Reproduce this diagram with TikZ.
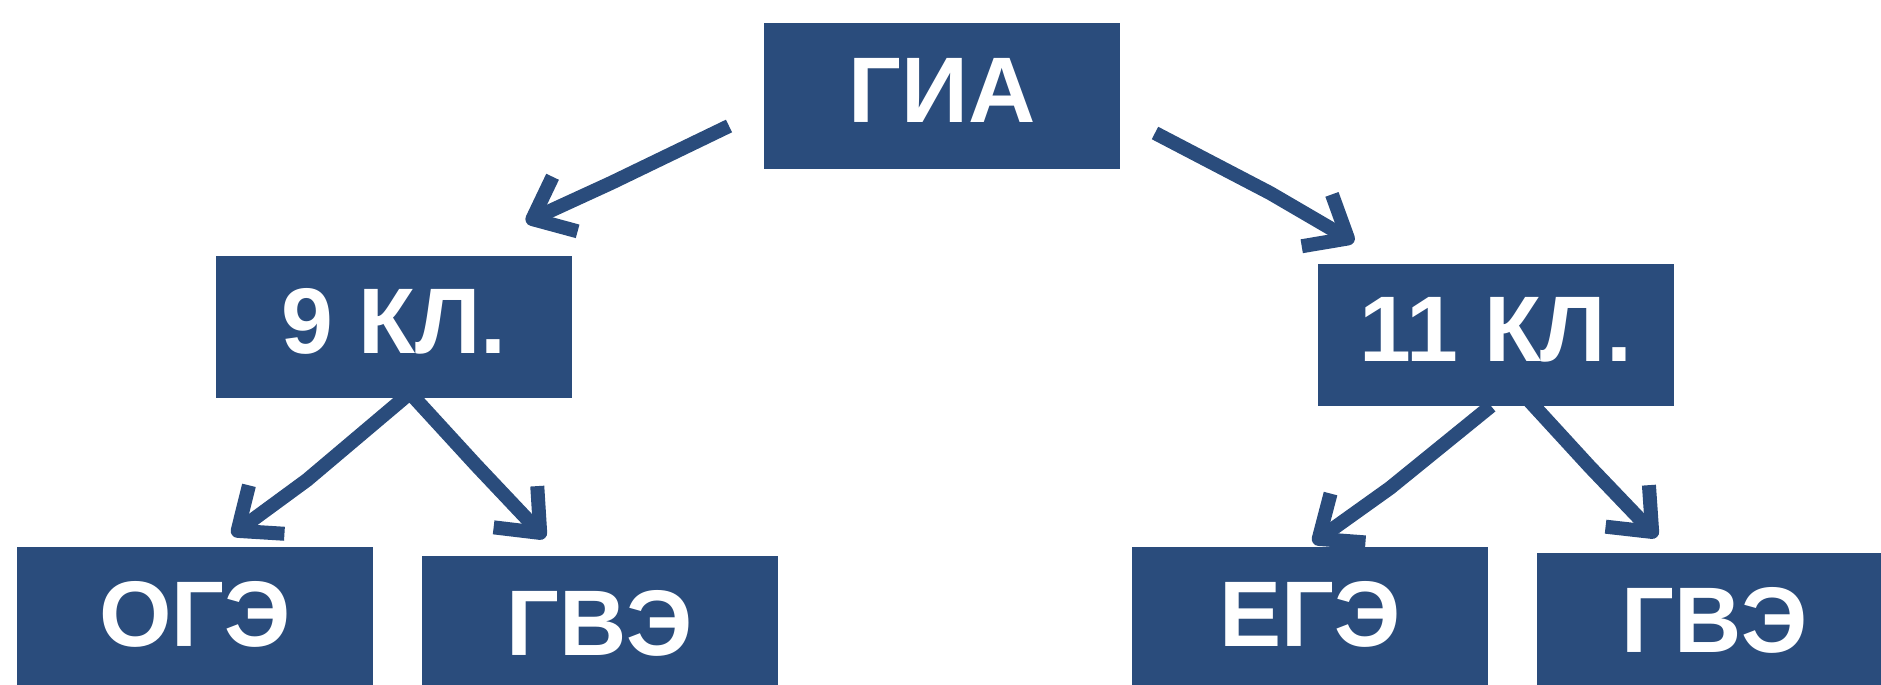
\documentclass[tikz,border=0pt]{standalone}
\usepackage{fontspec}
\setmainfont{Liberation Sans}
\usepackage{tikz}
\usetikzlibrary{arrows.meta}
\usepackage{xcolor}
\definecolor{gianavy}{RGB}{42,76,124}

\begin{document}
\begin{tikzpicture}[x=0.01cm,y=-0.01cm,
		box/.style={fill=gianavy,text=white,minimum width=3.56cm,minimum height=1.46cm,inner sep=0pt,text depth=0.12cm,font=\fontsize{26.5}{30}\selectfont\bfseries},
		link/.style={draw=gianavy,line width=0.14cm,line join=round,-{Straight Barb[length=0.36cm,width=0.6cm,line cap=butt,line join=round]}}]
		\useasboundingbox (0,0) rectangle (1881,685);
		% boxes
		\node[box] (gia) at (942,96) {ГИА};
		\node[box,minimum height=1.42cm] (kl9) at (394,327) {9 КЛ.};
		\node[box,minimum height=1.42cm] (kl11) at (1496,335) {11 КЛ.};
		\node[box] (oge) at (195,620) {ОГЭ};
		\node[box] (gve9) at (600,629) {ГВЭ};
		\node[box] (ege) at (1310,620) {ЕГЭ};
		\node[box] (gve11) at (1715,626) {ГВЭ};
		% arrows
		\coordinate (g1) at (729,126);
		\coordinate (g1m) at (611,183);
		\coordinate (g1e) at (526,222);
		\coordinate (g2) at (1155,133);
		\coordinate (g2m) at (1270,193);
		\coordinate (g2e) at (1354,242);
		\coordinate (k9) at (410,393);
		\coordinate (k9a) at (307,480);
		\coordinate (k9ae) at (232,535);
		\coordinate (k9b) at (476,465);
		\coordinate (k9be) at (545,538);
		\coordinate (k11a) at (1491,406);
		\coordinate (k11am) at (1390,488);
		\coordinate (k11ae) at (1313,543);
		\coordinate (k11b) at (1512,382);
		\coordinate (k11bm) at (1590,467);
		\coordinate (k11be) at (1657,537);
		\draw[link] (g1) -- (g1m) -- (g1e);
		\draw[link] (g2) -- (g2m) -- (g2e);
		\draw[link] (k9) -- (k9a) -- (k9ae);
		\draw[link] (k9) -- (k9b) -- (k9be);
		\draw[link] (k11a) -- (k11am) -- (k11ae);
		\draw[link] (k11b) -- (k11bm) -- (k11be);
\end{tikzpicture}
\end{document}
